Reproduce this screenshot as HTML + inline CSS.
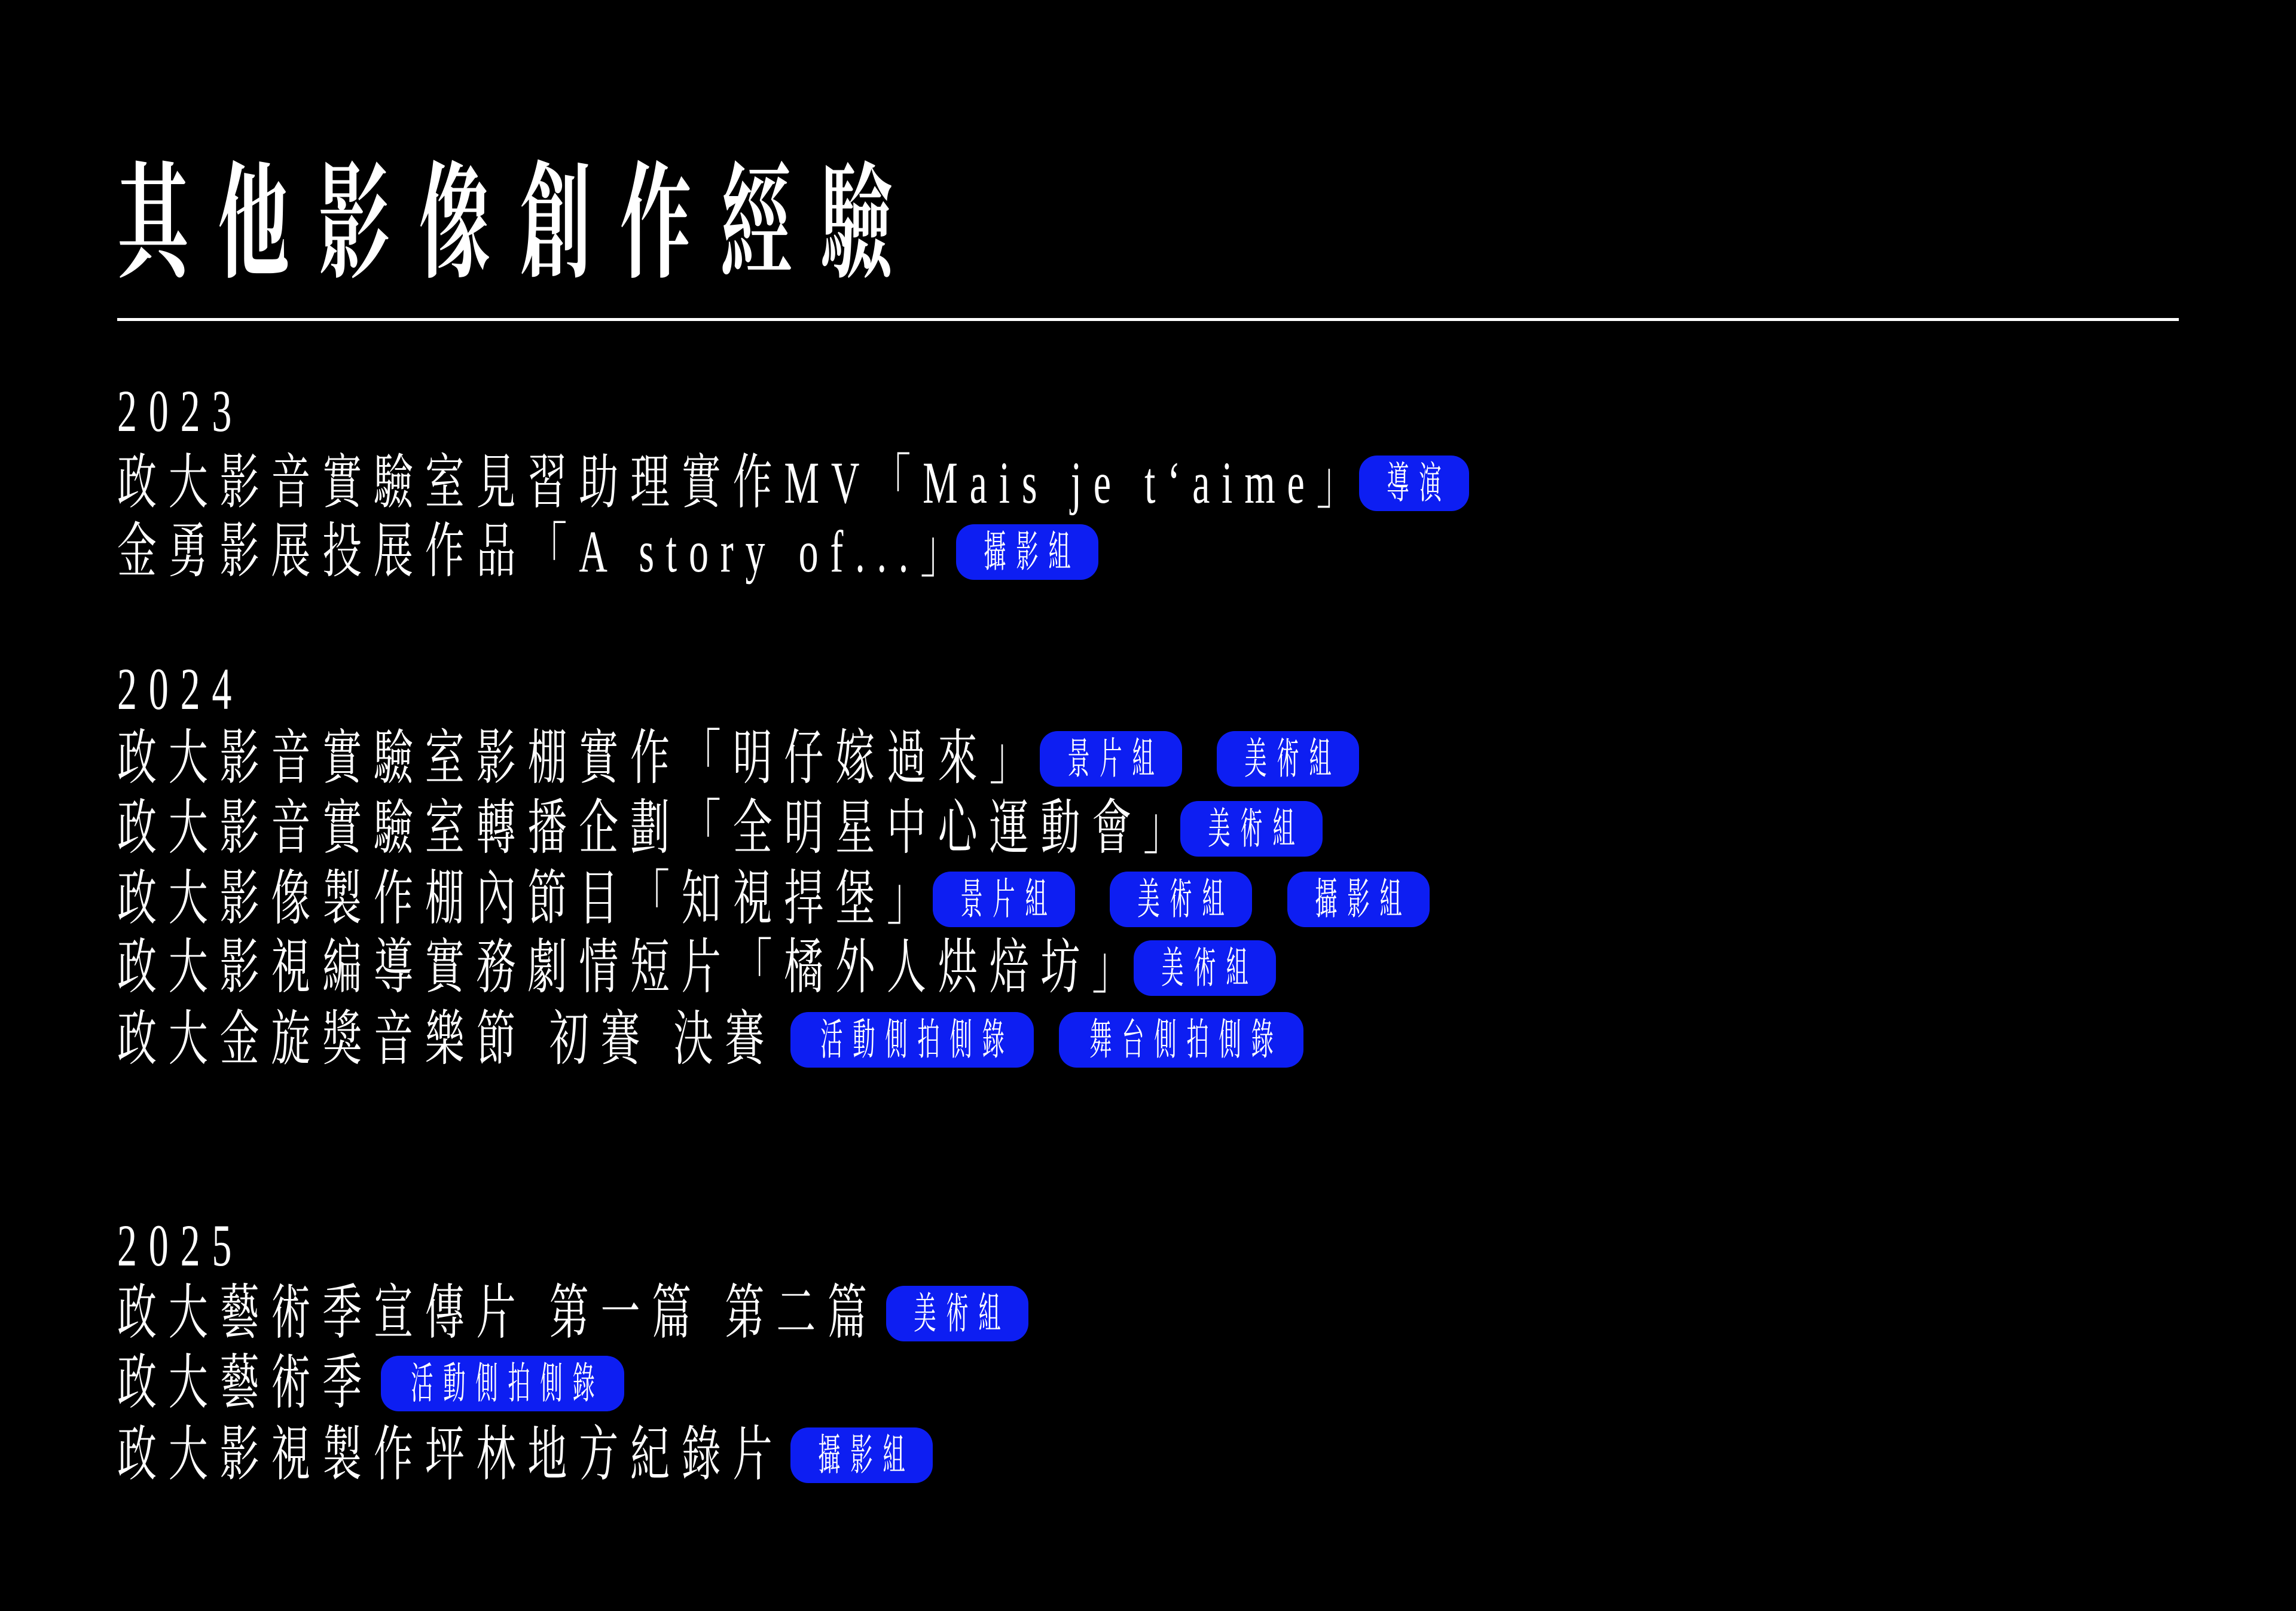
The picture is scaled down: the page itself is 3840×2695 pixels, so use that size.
<!DOCTYPE html>
<html><head><meta charset="utf-8">
<style>
html,body{margin:0;padding:0;background:#000;}
body{width:3840px;height:2695px;position:relative;overflow:hidden;font-family:"Liberation Serif","Noto Serif CJK SC","Noto Serif CJK TC",serif;color:#fff;}
.t{position:absolute;left:196px;white-space:nowrap;transform-origin:left center;}
.title{top:271px;font-size:210px;line-height:210px;letter-spacing:85px;transform:scaleX(0.57);font-weight:bold;}
.l{font-size:100px;line-height:100px;letter-spacing:30px;transform:scaleX(0.66);font-weight:normal;}
.rule{position:absolute;left:196px;top:532px;width:3448px;height:5px;background:#fff;}
.b{position:absolute;height:93px;background:#0d1ef2;border-radius:30px;display:flex;align-items:center;justify-content:center;overflow:hidden;}
.b span{display:inline-block;font-size:72px;line-height:72px;letter-spacing:32px;padding-left:32px;transform:scaleX(0.52);white-space:nowrap;color:#fff;}
</style></head><body>
<div class="t title">其他影像創作經驗</div>
<div class="rule"></div>

<div class="t l" style="top:638px">2023</div>
<div class="t l" style="top:758px">政大影音實驗室見習助理實作MV「Mais je t‘aime」</div>
<div class="t l" style="top:873px">金勇影展投展作品「A story of...」</div>

<div class="t l" style="top:1103px">2024</div>
<div class="t l" style="top:1219px">政大影音實驗室影棚實作「明仔嫁過來」</div>
<div class="t l" style="top:1336px">政大影音實驗室轉播企劃「全明星中心運動會」</div>
<div class="t l" style="top:1454px">政大影像製作棚內節目「知視捍堡」</div>
<div class="t l" style="top:1569px">政大影視編導實務劇情短片「橘外人烘焙坊」</div>
<div class="t l" style="top:1689px">政大金旋獎音樂節 初賽 決賽</div>

<div class="t l" style="top:2034px">2025</div>
<div class="t l" style="top:2147px">政大藝術季宣傳片 第一篇 第二篇</div>
<div class="t l" style="top:2264px">政大藝術季</div>
<div class="t l" style="top:2384px">政大影視製作坪林地方紀錄片</div>

<div class="b" style="left:2273px;width:184px;top:762px"><span>導演</span></div>
<div class="b" style="left:1599px;width:238px;top:877px"><span>攝影組</span></div>

<div class="b" style="left:1739px;width:238px;top:1223px"><span>景片組</span></div>
<div class="b" style="left:2035px;width:238px;top:1223px"><span>美術組</span></div>
<div class="b" style="left:1974px;width:238px;top:1340px"><span>美術組</span></div>
<div class="b" style="left:1560px;width:238px;top:1458px"><span>景片組</span></div>
<div class="b" style="left:1856px;width:238px;top:1458px"><span>美術組</span></div>
<div class="b" style="left:2153px;width:238px;top:1458px"><span>攝影組</span></div>
<div class="b" style="left:1896px;width:238px;top:1573px"><span>美術組</span></div>
<div class="b" style="left:1322px;width:407px;top:1693px"><span>活動側拍側錄</span></div>
<div class="b" style="left:1771px;width:409px;top:1693px"><span>舞台側拍側錄</span></div>

<div class="b" style="left:1482px;width:238px;top:2151px"><span>美術組</span></div>
<div class="b" style="left:637px;width:407px;top:2268px"><span>活動側拍側錄</span></div>
<div class="b" style="left:1322px;width:238px;top:2388px"><span>攝影組</span></div>
</body></html>
